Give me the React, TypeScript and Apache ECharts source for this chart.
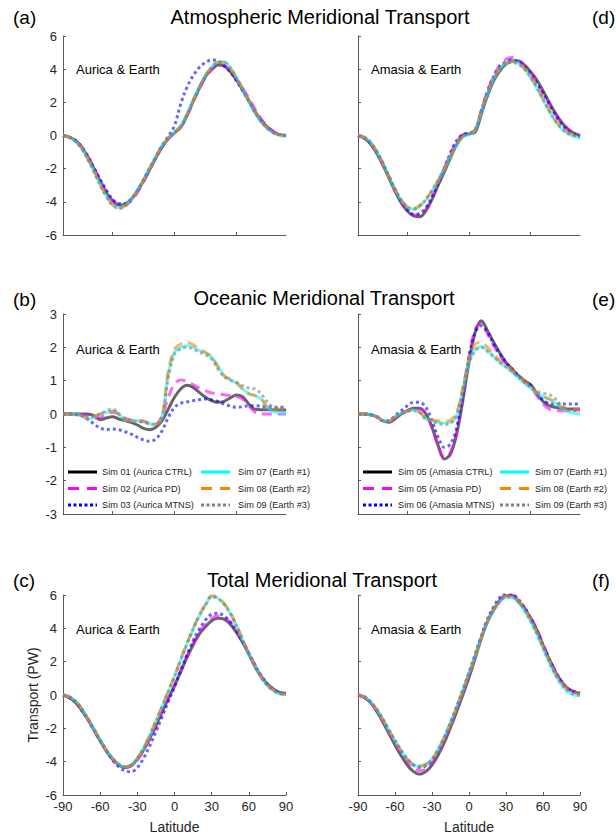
import React, { useEffect, useRef } from "react";
import * as echarts from "echarts";

const LATITUDES = [-90, -85, -80, -75, -70, -65, -60, -55, -50, -45, -40, -35, -30, -25, -20, -15, -10, -5, 0, 5, 10, 15, 20, 25, 30, 35, 40, 45, 50, 55, 60, 65, 70, 75, 80, 85, 90];

const LEFT_NAMES = ["Sim 01 (Aurica CTRL)", "Sim 02 (Aurica PD)", "Sim 03 (Aurica MTNS)", "Sim 07 (Earth #1)", "Sim 08 (Earth #2)", "Sim 09 (Earth #3)"];
const RIGHT_NAMES = ["Sim 05 (Amasia CTRL)", "Sim 05 (Amasia PD)", "Sim 06 (Amasia MTNS)", "Sim 07 (Earth #1)", "Sim 08 (Earth #2)", "Sim 09 (Earth #3)"];

const PANEL_TITLES = ["Atmospheric Meridional Transport", "Oceanic Meridional Transport", "Total Meridional Transport"];
const PANEL_LETTERS = ["(a)", "(b)", "(c)", "(d)", "(e)", "(f)"];
const LEFT_TAG = "Aurica & Earth";
const RIGHT_TAG = "Amasia & Earth";
const Y_TICKS_ATM = [-6, 6, 2];
const Y_TICKS_OCN = [-3, 3, 1];
const X_TICKS_TOP = [-50, 0, 50];

// (a) Atmospheric, Aurica & Earth
const atmAurica01 = [0, -0.1, -0.3, -0.7, -1.3, -2.0, -2.75, -3.45, -3.95, -4.2, -4.15, -3.85, -3.35, -2.75, -2.05, -1.35, -0.7, -0.2, 0.15, 0.5, 1.2, 2.05, 2.85, 3.55, 4.0, 4.25, 4.2, 3.85, 3.35, 2.75, 2.1, 1.45, 0.9, 0.5, 0.2, 0.05, 0];
const atmAurica02 = [0, -0.1, -0.3, -0.65, -1.25, -1.95, -2.7, -3.4, -3.9, -4.15, -4.2, -3.95, -3.45, -2.8, -2.05, -1.3, -0.65, -0.2, 0.15, 0.5, 1.15, 2.0, 2.8, 3.5, 3.95, 4.2, 4.2, 3.9, 3.4, 2.85, 2.25, 1.6, 1.0, 0.55, 0.25, 0.05, 0];
const atmAurica03 = [0, -0.1, -0.3, -0.7, -1.25, -1.95, -2.65, -3.3, -3.85, -4.1, -4.1, -3.85, -3.3, -2.65, -1.95, -1.3, -0.6, -0.05, 0.6, 1.9, 2.9, 3.6, 4.1, 4.4, 4.55, 4.5, 4.2, 3.85, 3.3, 2.7, 2.05, 1.4, 0.85, 0.45, 0.15, 0.05, 0];
const atmAurica07 = [0, -0.1, -0.35, -0.75, -1.4, -2.15, -2.95, -3.65, -4.15, -4.35, -4.2, -3.85, -3.3, -2.65, -1.95, -1.25, -0.6, -0.15, 0.2, 0.6, 1.3, 2.15, 2.95, 3.65, 4.15, 4.45, 4.45, 4.1, 3.5, 2.8, 2.05, 1.35, 0.8, 0.4, 0.15, 0, -0.05];
const atmAurica08 = [0, -0.1, -0.35, -0.75, -1.4, -2.15, -2.95, -3.65, -4.15, -4.4, -4.25, -3.9, -3.35, -2.7, -2.0, -1.3, -0.65, -0.15, 0.2, 0.55, 1.25, 2.1, 2.9, 3.6, 4.1, 4.4, 4.4, 4.05, 3.5, 2.85, 2.15, 1.45, 0.85, 0.45, 0.15, 0.05, 0];
const atmAurica09 = [0, -0.1, -0.35, -0.8, -1.45, -2.2, -3.0, -3.7, -4.2, -4.4, -4.25, -3.9, -3.35, -2.7, -2.0, -1.3, -0.65, -0.15, 0.2, 0.5, 1.2, 2.05, 2.85, 3.6, 4.1, 4.4, 4.4, 4.05, 3.45, 2.8, 2.1, 1.4, 0.85, 0.45, 0.15, 0.05, 0];

// (b) Oceanic, Aurica & Earth
const ocnAurica01 = [0, 0, 0, 0, 0, -0.05, -0.17, -0.12, -0.08, -0.15, -0.2, -0.25, -0.33, -0.43, -0.47, -0.4, -0.2, 0.15, 0.5, 0.75, 0.86, 0.8, 0.65, 0.5, 0.4, 0.35, 0.38, 0.48, 0.57, 0.52, 0.3, 0.14, 0.13, 0.13, 0.12, 0.12, 0.12];
const ocnAurica02 = [0, 0, 0, -0.02, -0.05, -0.12, -0.1, 0, 0.05, 0, -0.12, -0.18, -0.2, -0.22, -0.28, -0.3, -0.05, 0.5, 0.9, 1.02, 0.98, 0.88, 0.78, 0.7, 0.63, 0.6, 0.58, 0.55, 0.52, 0.45, 0.25, 0.05, 0, 0, 0, 0, 0];
const ocnAurica03 = [0, 0, -0.02, -0.05, -0.15, -0.3, -0.42, -0.47, -0.45, -0.47, -0.53, -0.6, -0.7, -0.78, -0.82, -0.75, -0.5, -0.1, 0.2, 0.32, 0.36, 0.4, 0.43, 0.45, 0.43, 0.38, 0.3, 0.24, 0.2, 0.22, 0.25, 0.25, 0.23, 0.22, 0.2, 0.2, 0.2];
const ocnAurica07 = [0, 0, 0, -0.05, -0.15, -0.1, 0, 0.05, 0.1, 0, -0.18, -0.2, -0.2, -0.22, -0.3, -0.3, -0.1, 1.2, 1.85, 2.0, 2.05, 2.0, 1.9, 1.83, 1.7, 1.45, 1.15, 1.02, 0.92, 0.75, 0.62, 0.55, 0.45, 0.2, 0.07, 0.03, 0.02];
const ocnAurica08 = [0, 0, 0, -0.05, -0.12, -0.08, 0, 0.05, 0.08, 0, -0.15, -0.2, -0.22, -0.22, -0.28, -0.3, -0.05, 1.3, 1.95, 2.1, 2.15, 2.08, 1.95, 1.85, 1.72, 1.4, 1.15, 1.05, 0.95, 0.75, 0.6, 0.55, 0.45, 0.2, 0.15, 0.15, 0.15];
const ocnAurica09 = [0, 0, 0, -0.05, -0.15, -0.05, 0, 0.1, 0.15, 0, -0.15, -0.2, -0.22, -0.25, -0.3, -0.32, -0.1, 1.1, 1.8, 1.95, 2.0, 1.95, 1.85, 1.78, 1.65, 1.35, 1.12, 1.02, 0.95, 0.85, 0.78, 0.75, 0.6, 0.35, 0.2, 0.15, 0.15];

// (c) Total, Aurica & Earth
const totAurica01 = [0, -0.15, -0.45, -0.9, -1.45, -2.1, -2.75, -3.35, -3.85, -4.2, -4.35, -4.25, -3.85, -3.3, -2.6, -1.85, -1.0, -0.2, 0.55, 1.4, 2.25, 3.0, 3.65, 4.1, 4.45, 4.6, 4.55, 4.25, 3.75, 3.15, 2.45, 1.7, 1.1, 0.65, 0.35, 0.15, 0.1];
const totAurica02 = [0, -0.15, -0.4, -0.9, -1.45, -2.1, -2.75, -3.35, -3.85, -4.2, -4.35, -4.25, -3.9, -3.35, -2.65, -1.9, -1.05, -0.25, 0.55, 1.45, 2.35, 3.1, 3.75, 4.25, 4.6, 4.75, 4.65, 4.35, 3.85, 3.2, 2.5, 1.8, 1.15, 0.65, 0.35, 0.15, 0.05];
const totAurica03 = [0, -0.15, -0.4, -0.9, -1.45, -2.1, -2.75, -3.35, -3.9, -4.3, -4.55, -4.6, -4.35, -3.8, -3.05, -2.2, -1.3, -0.4, 0.5, 1.45, 2.4, 3.25, 3.95, 4.5, 4.85, 4.9, 4.75, 4.4, 3.85, 3.2, 2.5, 1.8, 1.15, 0.65, 0.3, 0.1, 0.05];
const totAurica07 = [0, -0.1, -0.35, -0.8, -1.4, -2.05, -2.7, -3.3, -3.8, -4.15, -4.3, -4.2, -3.8, -3.2, -2.45, -1.6, -0.7, 0.2, 1.1, 2.1, 3.05, 3.95, 4.75, 5.4, 5.9, 5.8, 5.45, 4.9, 4.15, 3.3, 2.45, 1.7, 1.05, 0.55, 0.25, 0.05, 0];
const totAurica08 = [0, -0.1, -0.35, -0.8, -1.4, -2.05, -2.7, -3.3, -3.8, -4.15, -4.3, -4.2, -3.8, -3.2, -2.4, -1.55, -0.65, 0.25, 1.15, 2.15, 3.1, 4.0, 4.8, 5.45, 5.95, 5.85, 5.5, 4.95, 4.2, 3.35, 2.5, 1.75, 1.1, 0.6, 0.3, 0.1, 0.05];
const totAurica09 = [0, -0.1, -0.35, -0.8, -1.4, -2.05, -2.7, -3.3, -3.8, -4.15, -4.3, -4.2, -3.8, -3.2, -2.45, -1.6, -0.7, 0.2, 1.1, 2.1, 3.05, 3.95, 4.75, 5.4, 5.9, 5.8, 5.45, 4.9, 4.15, 3.3, 2.45, 1.7, 1.05, 0.55, 0.25, 0.1, 0.05];

// (d) Atmospheric, Amasia & Earth
const atmAmasia05 = [0, -0.15, -0.5, -1.05, -1.75, -2.55, -3.35, -4.05, -4.55, -4.85, -4.9, -4.55, -3.85, -3.0, -2.2, -1.35, -0.55, 0, 0.1, 0.2, 1.3, 2.4, 3.3, 3.9, 4.3, 4.5, 4.5, 4.25, 3.85, 3.35, 2.7, 2.0, 1.35, 0.8, 0.4, 0.15, 0];
const atmAmasia05pd = [0, -0.15, -0.45, -1.0, -1.7, -2.5, -3.3, -4.0, -4.5, -4.8, -4.8, -4.45, -3.75, -2.9, -2.0, -1.1, -0.35, 0.05, 0.15, 0.3, 1.5, 2.7, 3.6, 4.25, 4.6, 4.7, 4.55, 4.2, 3.8, 3.25, 2.6, 1.95, 1.3, 0.8, 0.4, 0.1, -0.05];
const atmAmasia06 = [0, -0.15, -0.45, -0.95, -1.65, -2.45, -3.25, -3.95, -4.45, -4.75, -4.7, -4.35, -3.7, -2.85, -1.95, -1.05, -0.3, 0.05, 0.15, 0.35, 1.5, 2.65, 3.55, 4.15, 4.45, 4.55, 4.45, 4.15, 3.7, 3.15, 2.55, 1.9, 1.25, 0.7, 0.3, 0.05, -0.1];
const atmAmasia07 = [0, -0.1, -0.4, -0.95, -1.65, -2.45, -3.25, -3.9, -4.3, -4.45, -4.3, -3.9, -3.35, -2.75, -2.05, -1.3, -0.6, -0.1, 0.05, 0.3, 1.4, 2.5, 3.4, 4.0, 4.35, 4.45, 4.35, 4.0, 3.5, 2.85, 2.15, 1.45, 0.85, 0.4, 0.1, -0.05, -0.15];
const atmAmasia08 = [0, -0.1, -0.4, -0.95, -1.65, -2.45, -3.25, -3.9, -4.3, -4.4, -4.2, -3.85, -3.35, -2.7, -2.0, -1.25, -0.55, -0.05, 0.1, 0.35, 1.5, 2.6, 3.45, 4.05, 4.35, 4.45, 4.35, 4.05, 3.55, 2.95, 2.25, 1.55, 0.95, 0.5, 0.2, 0.05, -0.05];
const atmAmasia09 = [0, -0.1, -0.4, -0.95, -1.65, -2.45, -3.25, -3.9, -4.3, -4.45, -4.25, -3.85, -3.3, -2.7, -2.0, -1.25, -0.55, -0.05, 0.1, 0.35, 1.45, 2.55, 3.45, 4.05, 4.35, 4.4, 4.3, 4.0, 3.5, 2.9, 2.2, 1.5, 0.9, 0.45, 0.15, 0, -0.05];

// (e) Oceanic, Amasia & Earth
const ocnAmasia05 = [0, 0, -0.02, -0.08, -0.2, -0.25, -0.15, 0, 0.1, 0.17, 0.17, 0, -0.4, -0.95, -1.35, -1.2, -0.6, 0.4, 1.55, 2.45, 2.8, 2.5, 2.15, 1.83, 1.55, 1.35, 1.15, 1.0, 0.88, 0.62, 0.38, 0.25, 0.2, 0.17, 0.15, 0.15, 0.15];
const ocnAmasia05pd = [0, 0, -0.02, -0.08, -0.2, -0.23, -0.12, 0, 0.1, 0.15, 0.15, 0.02, -0.4, -0.95, -1.3, -1.15, -0.55, 0.55, 1.7, 2.55, 2.72, 2.4, 2.05, 1.75, 1.5, 1.3, 1.1, 0.95, 0.8, 0.55, 0.3, 0.15, 0.1, 0.1, 0.1, 0.12, 0.12];
const ocnAmasia06 = [0, 0, -0.02, -0.08, -0.2, -0.2, -0.05, 0.1, 0.25, 0.35, 0.35, 0.2, -0.2, -0.7, -1.0, -0.9, -0.4, 0.6, 1.7, 2.45, 2.65, 2.45, 2.1, 1.8, 1.55, 1.35, 1.15, 1.0, 0.85, 0.62, 0.42, 0.32, 0.3, 0.3, 0.3, 0.3, 0.3];
const ocnAmasia07 = [0, 0, -0.02, -0.08, -0.2, -0.22, -0.08, 0.02, 0.08, 0.12, 0.05, -0.15, -0.2, -0.25, -0.27, -0.25, -0.05, 0.75, 1.55, 1.95, 2.02, 1.9, 1.72, 1.55, 1.4, 1.25, 1.08, 0.93, 0.78, 0.62, 0.52, 0.45, 0.33, 0.18, 0.07, 0.02, 0];
const ocnAmasia08 = [0, 0, -0.02, -0.08, -0.2, -0.22, -0.08, 0.02, 0.1, 0.12, 0.05, -0.12, -0.18, -0.2, -0.22, -0.18, 0.05, 0.8, 1.65, 2.1, 2.15, 2.0, 1.8, 1.6, 1.45, 1.32, 1.18, 1.0, 0.82, 0.65, 0.52, 0.45, 0.35, 0.22, 0.15, 0.15, 0.15];
const ocnAmasia09 = [0, 0, -0.02, -0.08, -0.2, -0.22, -0.08, 0.02, 0.08, 0.1, 0.05, -0.15, -0.22, -0.28, -0.32, -0.28, -0.02, 0.7, 1.5, 1.9, 2.0, 1.88, 1.72, 1.55, 1.42, 1.28, 1.12, 0.95, 0.8, 0.68, 0.62, 0.58, 0.45, 0.25, 0.12, 0.1, 0.1];

// (f) Total, Amasia & Earth
const totAmasia05 = [0, -0.15, -0.45, -0.95, -1.6, -2.3, -3.0, -3.65, -4.2, -4.6, -4.75, -4.6, -4.2, -3.6, -2.85, -1.95, -1.0, 0, 1.05, 2.2, 3.4, 4.4, 5.1, 5.65, 5.95, 5.95, 5.6, 5.2, 4.6, 3.9, 3.0, 2.15, 1.4, 0.8, 0.4, 0.2, 0.1];
const totAmasia05pd = [0, -0.15, -0.45, -0.95, -1.55, -2.25, -2.9, -3.5, -4.0, -4.4, -4.55, -4.45, -4.05, -3.45, -2.7, -1.8, -0.85, 0.15, 1.2, 2.3, 3.45, 4.45, 5.15, 5.7, 6.0, 6.0, 5.7, 5.25, 4.65, 3.95, 3.05, 2.2, 1.45, 0.8, 0.4, 0.2, 0.1];
const totAmasia06 = [0, -0.1, -0.4, -0.85, -1.45, -2.1, -2.75, -3.35, -3.85, -4.2, -4.35, -4.25, -3.9, -3.3, -2.55, -1.65, -0.7, 0.3, 1.35, 2.45, 3.55, 4.55, 5.3, 5.85, 6.1, 6.05, 5.75, 5.25, 4.6, 3.85, 3.0, 2.15, 1.4, 0.8, 0.4, 0.2, 0.1];
const totAmasia07 = [0, -0.1, -0.4, -0.85, -1.45, -2.1, -2.75, -3.35, -3.85, -4.2, -4.3, -4.2, -3.85, -3.25, -2.5, -1.65, -0.7, 0.3, 1.3, 2.35, 3.45, 4.4, 5.1, 5.6, 5.85, 5.85, 5.55, 5.05, 4.4, 3.65, 2.8, 1.95, 1.2, 0.6, 0.2, 0, -0.05];
const totAmasia08 = [0, -0.1, -0.4, -0.85, -1.45, -2.1, -2.75, -3.35, -3.85, -4.15, -4.25, -4.15, -3.85, -3.3, -2.55, -1.7, -0.75, 0.25, 1.3, 2.35, 3.45, 4.4, 5.15, 5.65, 5.95, 5.95, 5.65, 5.2, 4.55, 3.8, 2.95, 2.1, 1.35, 0.75, 0.35, 0.15, 0.1];
const totAmasia09 = [0, -0.1, -0.4, -0.85, -1.45, -2.1, -2.75, -3.35, -3.85, -4.2, -4.3, -4.2, -3.85, -3.3, -2.55, -1.7, -0.75, 0.25, 1.3, 2.35, 3.45, 4.4, 5.1, 5.6, 5.9, 5.9, 5.6, 5.1, 4.45, 3.7, 2.85, 2.0, 1.25, 0.65, 0.25, 0.05, 0];

const FONT = "'Liberation Sans', Arial, Helvetica, sans-serif";
const TEXT_COLOR = "#262626";
const AXIS_COLOR = "#5a5a5a";

const STYLES = [
  { color: "#000000", type: "solid", legendDash: null as null | number[] },
  { color: "#ff00ff", type: [10, 6], legendDash: [11, 8] },
  { color: "#0000ff", type: [3, 3], legendDash: [3, 2.5] },
  { color: "#00ffff", type: "solid", legendDash: null },
  { color: "#ff8000", type: [10, 6], legendDash: [11, 8] },
  { color: "#808080", type: [3, 3], legendDash: [3, 2.5] },
];

const PANELS = [
  { left: 63, top: 36, width: 223, height: 199, y: Y_TICKS_ATM, bottom: false, yLabels: true, names: LEFT_NAMES, data: [atmAurica01, atmAurica02, atmAurica03, atmAurica07, atmAurica08, atmAurica09] },
  { left: 63, top: 314, width: 223, height: 200, y: Y_TICKS_OCN, bottom: false, yLabels: true, names: LEFT_NAMES, data: [ocnAurica01, ocnAurica02, ocnAurica03, ocnAurica07, ocnAurica08, ocnAurica09] },
  { left: 63, top: 595, width: 223, height: 200, y: Y_TICKS_ATM, bottom: true, yLabels: true, names: LEFT_NAMES, data: [totAurica01, totAurica02, totAurica03, totAurica07, totAurica08, totAurica09] },
  { left: 358, top: 36, width: 222, height: 199, y: Y_TICKS_ATM, bottom: false, yLabels: false, names: RIGHT_NAMES, data: [atmAmasia05, atmAmasia05pd, atmAmasia06, atmAmasia07, atmAmasia08, atmAmasia09] },
  { left: 358, top: 314, width: 222, height: 200, y: Y_TICKS_OCN, bottom: false, yLabels: false, names: RIGHT_NAMES, data: [ocnAmasia05, ocnAmasia05pd, ocnAmasia06, ocnAmasia07, ocnAmasia08, ocnAmasia09] },
  { left: 358, top: 595, width: 222, height: 200, y: Y_TICKS_ATM, bottom: true, yLabels: false, names: RIGHT_NAMES, data: [totAmasia05, totAmasia05pd, totAmasia06, totAmasia07, totAmasia08, totAmasia09] },
];

function buildOption() {
  const grid = PANELS.map((p) => ({ left: p.left, top: p.top, width: p.width, height: p.height, containLabel: false }));
  const xAxis = PANELS.map((p, i) => ({
    type: "value",
    gridIndex: i,
    min: -90,
    max: 90,
    ...(p.bottom ? { interval: 30 } : {}),
    axisLine: { show: true, onZero: false, lineStyle: { color: AXIS_COLOR, width: 1 } },
    axisTick: p.bottom
      ? { show: true, inside: true, length: 3, lineStyle: { color: AXIS_COLOR } }
      : { show: true, inside: true, length: 3, customValues: X_TICKS_TOP, lineStyle: { color: AXIS_COLOR } },
    axisLabel: p.bottom
      ? { show: true, fontSize: 13, color: TEXT_COLOR, fontFamily: FONT, margin: 5 }
      : { show: false },
    splitLine: { show: false },
  }));
  const yAxis = PANELS.map((p, i) => ({
    type: "value",
    gridIndex: i,
    min: p.y[0],
    max: p.y[1],
    interval: p.y[2],
    axisLine: { show: true, onZero: false, lineStyle: { color: AXIS_COLOR, width: 1 } },
    axisTick: { show: true, inside: true, length: 3, lineStyle: { color: AXIS_COLOR } },
    axisLabel: p.yLabels ? { show: true, fontSize: 13, color: TEXT_COLOR, fontFamily: FONT, margin: 6 } : { show: false },
    splitLine: { show: false },
  }));
  const series: any[] = [];
  PANELS.forEach((p, i) => {
    p.data.forEach((vals, k) => {
      series.push({
        type: "line",
        name: p.names[k],
        xAxisIndex: i,
        yAxisIndex: i,
        data: LATITUDES.map((lat, j) => [lat, vals[j]]),
        showSymbol: false,
        symbol: "none",
        smooth: 0.35,
        lineStyle: { color: STYLES[k].color, width: 3, type: STYLES[k].type, opacity: 0.6 },
        itemStyle: { color: STYLES[k].color },
        emphasis: { disabled: true },
        silent: true,
      });
    });
  });

  const graphic: any[] = [];
  const titleY = [17, 298, 580];
  const titleX = [320, 324, 322];
  PANEL_TITLES.forEach((t, r) => {
    graphic.push({ type: "text", x: titleX[r], y: titleY[r], style: { text: t, fontSize: 20, fontFamily: FONT, fill: "#000", align: "center", verticalAlign: "middle" } });
  });
  const letterY = [17, 299, 580];
  PANEL_LETTERS.forEach((l, i) => {
    const r = i % 3;
    const x = i < 3 ? 13 : 592;
    graphic.push({ type: "text", x, y: letterY[r], style: { text: l, fontSize: 19, fontFamily: FONT, fill: "#000", align: "left", verticalAlign: "middle" } });
  });
  const tagY = [69, 349, 629];
  [0, 1, 2].forEach((r) => {
    graphic.push({ type: "text", x: 76, y: tagY[r], style: { text: LEFT_TAG, fontSize: 13, fontFamily: FONT, fill: "#000", align: "left", verticalAlign: "middle" } });
    graphic.push({ type: "text", x: 371, y: tagY[r], style: { text: RIGHT_TAG, fontSize: 13, fontFamily: FONT, fill: "#000", align: "left", verticalAlign: "middle" } });
  });
  graphic.push({ type: "text", x: 33, y: 695, rotation: Math.PI / 2, style: { text: "Transport (PW)", fontSize: 14, fontFamily: FONT, fill: TEXT_COLOR, align: "center", verticalAlign: "middle" } });
  graphic.push({ type: "text", x: 174.5, y: 827, style: { text: "Latitude", fontSize: 14, fontFamily: FONT, fill: TEXT_COLOR, align: "center", verticalAlign: "middle" } });
  graphic.push({ type: "text", x: 469, y: 827, style: { text: "Latitude", fontSize: 14, fontFamily: FONT, fill: TEXT_COLOR, align: "center", verticalAlign: "middle" } });

  // Legends (panels b and e)
  const rowY = [472, 488.5, 505];
  const legendSets = [
    { names: LEFT_NAMES, lineX: [68, 201], textX: [102, 238] },
    { names: RIGHT_NAMES, lineX: [363, 500], textX: [398, 535] },
  ];
  legendSets.forEach((set) => {
    set.names.forEach((name, k) => {
      const col = k < 3 ? 0 : 1;
      const row = k % 3;
      const st = STYLES[k];
      const style: any = { stroke: st.color, lineWidth: 3 };
      if (st.legendDash) style.lineDash = st.legendDash;
      graphic.push({ type: "line", shape: { x1: set.lineX[col], y1: rowY[row], x2: set.lineX[col] + 29, y2: rowY[row] }, style, silent: true });
      graphic.push({ type: "text", x: set.textX[col], y: rowY[row], style: { text: name, fontSize: 9.2, fontFamily: FONT, fill: TEXT_COLOR, align: "left", verticalAlign: "middle" } });
    });
  });

  return {
    animation: false,
    backgroundColor: "#ffffff",
    textStyle: { fontFamily: FONT },
    grid,
    xAxis,
    yAxis,
    series,
    graphic,
  };
}

export default function App() {
  const ref = useRef<HTMLDivElement>(null);
  useEffect(() => {
    document.body.style.margin = "0";
    const chart = echarts.init(ref.current!, null, { renderer: "svg" });
    chart.setOption(buildOption() as any);
    return () => chart.dispose();
  }, []);
  return <div ref={ref} style={{ width: 616, height: 839 }} />;
}
